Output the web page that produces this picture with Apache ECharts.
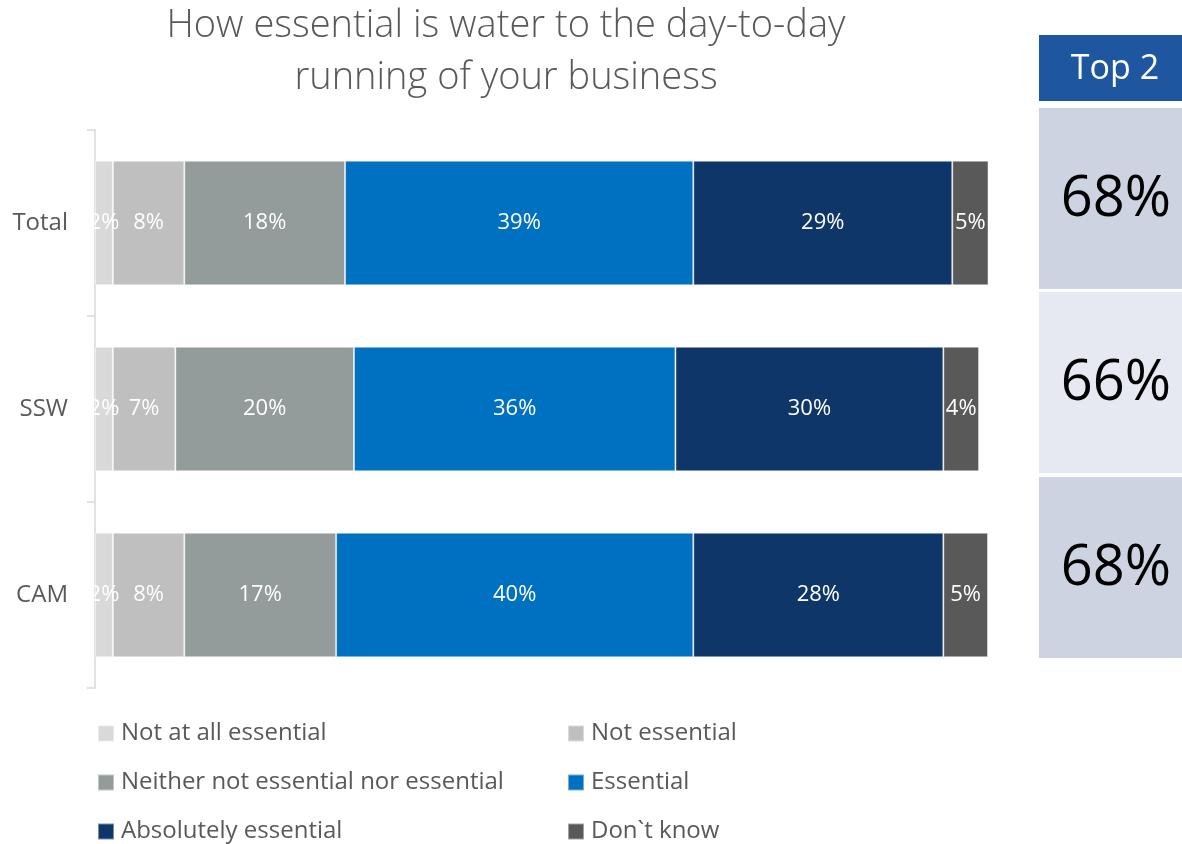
<!DOCTYPE html>
<html>
<head>
<meta charset="utf-8">
<script src="https://cdn.jsdelivr.net/npm/echarts@6/dist/echarts.min.js"></script>
<style>html,body{margin:0;padding:0;background:#fff}#c{width:1182px;height:844px}</style>
</head>
<body>
<div id="c"></div>
<script>
const categories = ['Total', 'SSW', 'CAM'];
const seriesNames = ['Not at all essential', 'Not essential', 'Neither not essential nor essential', 'Essential', 'Absolutely essential', 'Don`t know'];
const notAtAll = [2, 2, 2];
const notEssential = [8, 7, 8];
const neither = [18, 20, 17];
const essential = [39, 36, 40];
const absolutely = [29, 30, 28];
const dontKnow = [4.5, 4, 5];
const top2 = ['68%', '66%', '68%'];
const titleText = 'How essential is water to the day-to-day\nrunning of your business';

const colors = ['#d9d9d9', '#bfbfbf', '#949b9b', '#0070c0', '#0e3669', '#595959'];
const values = [notAtAll, notEssential, neither, essential, absolutely, dontKnow];
const FONT = '"Open Sans", "Noto Sans", sans-serif';

const chart = echarts.init(document.getElementById('c'));

const series = seriesNames.map((name, i) => ({
  name: name,
  type: 'bar',
  stack: 'all',
  barCategoryGap: '33%',
  data: values[i],
  itemStyle: { color: colors[i], borderColor: 'rgba(255,255,255,0.45)', borderWidth: 1 },
  label: {
    show: true,
    position: 'inside',
    color: '#ffffff',
    fontSize: 22,
    fontFamily: FONT,
    formatter: p => Math.round(p.value) + '%'
  },
  emphasis: { disabled: true }
}));

const boxTop = [108, 292, 477];
const boxColors = ['#cdd3e1', '#e6e9f2', '#cdd3e1'];
const graphics = [
  {
    type: 'text', x: 506, y: 0,
    style: { text: titleText, align: 'center', verticalAlign: 'top', fill: '#595959', fontSize: 38, lineHeight: 52, fontFamily: FONT, fontWeight: 300 }
  },
  { type: 'rect', shape: { x: 1039, y: 35, width: 143, height: 66 }, style: { fill: '#1e56a0' } },
  { type: 'text', x: 1115, y: 69, style: { text: 'Top 2', align: 'center', verticalAlign: 'middle', fill: '#ffffff', fontSize: 34, fontFamily: FONT } }
];
top2.forEach((t, i) => {
  graphics.push({ type: 'rect', shape: { x: 1039, y: boxTop[i], width: 143, height: 181 }, style: { fill: boxColors[i] } });
  graphics.push({ type: 'text', x: 1116, y: boxTop[i] + 92, style: { text: t, align: 'center', verticalAlign: 'middle', fill: '#000000', fontSize: 56, fontFamily: FONT } });
});

const legendBase = {
  orient: 'vertical', top: 721, height: 123, padding: 0, itemGap: 24,
  itemWidth: 16, itemHeight: 16, icon: 'rect',
  textStyle: { color: '#595959', fontSize: 24, lineHeight: 25, fontFamily: FONT, padding: [0, 0, 0, 2] },
  selectedMode: false
};

chart.setOption({
  animation: false,
  color: colors,
  textStyle: { fontFamily: FONT },
  grid: { left: 95, top: 130, width: 893, height: 558, containLabel: false },
  xAxis: { type: 'value', min: 0, max: 100, show: false },
  yAxis: {
    type: 'category',
    inverse: true,
    data: categories,
    axisLine: { show: true, lineStyle: { color: '#d9d9d9', width: 1.5 } },
    axisTick: { show: true, length: 8, lineStyle: { color: '#d9d9d9', width: 1.5 } },
    axisLabel: { color: '#595959', fontSize: 24, margin: 27, fontFamily: FONT }
  },
  legend: [
    Object.assign({}, legendBase, { left: 97, data: [seriesNames[0], seriesNames[2], seriesNames[4]] }),
    Object.assign({}, legendBase, { left: 567, data: [seriesNames[1], seriesNames[3], seriesNames[5]] })
  ],
  graphic: graphics,
  series: series
});
</script>
</body>
</html>
